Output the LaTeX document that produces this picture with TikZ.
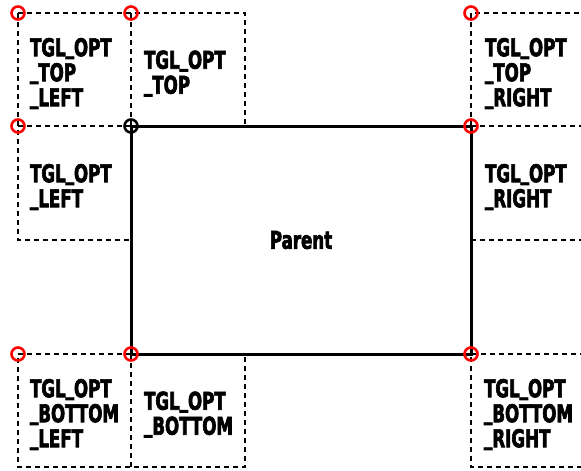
\documentclass[tikz,border=0pt]{standalone}
\usepackage{fontspec}
\newfontfamily\impfont[FakeStretch=0.68,FakeBold=2.5]{DejaVu Sans}
\newcommand\usc{\raisebox{3pt}{\_}}
\begin{document}
\begin{tikzpicture}[x=1pt,y=-1pt,
  optbox/.style={anchor=north west, minimum width=113pt, minimum height=113pt,
    inner sep=0pt, outer sep=0pt},
  wide/.style={minimum width=114pt},
  tall/.style={minimum height=114pt},
  lbl/.style={text width=89pt, inner sep=0pt, align=left,
    font=\impfont\bfseries\fontsize{24.5}{25}\selectfont},
  dash line/.style={draw, dash pattern=on 5pt off 4pt, line width=2.6pt},
  parentbox/.style={draw, line width=3pt, anchor=north west, outer sep=0pt,
    minimum width=340pt, minimum height=228pt, inner sep=0pt,
    font=\impfont\bfseries\fontsize{24.5}{25}\selectfont},
  mk/.style={circle, draw=red, line width=2.6pt, minimum size=13pt, inner sep=0pt},
  mkblack/.style={mk, draw=black}
]
\clip (0,0) rectangle (581,471);
\fill[white] (0,0) rectangle (581,471);
\node[optbox] (tl) at (18,13) {};
\node[optbox,wide] (t) at (131,13) {};
\node[optbox,wide] (tr) at (471,13) {};
\node[optbox,tall] (l) at (18,126) {};
\node[optbox,wide,tall] (r) at (471,126) {};
\node[optbox] (bl) at (18,354) {};
\node[optbox,wide] (b) at (131,354) {};
\node[optbox,wide] (br) at (471,354) {};
\node[lbl] (tlt) at ([xshift=0pt,yshift=-4pt]tl.center) {TGL\usc OPT\\\usc TOP\\\usc LEFT};
\node[lbl] (tt) at ([xshift=0.5pt,yshift=-4pt]t.center) {TGL\usc OPT\\\usc TOP};
\node[lbl] (trt) at ([xshift=1.5pt,yshift=-4pt]tr.center) {TGL\usc OPT\\\usc TOP\\\usc RIGHT};
\node[lbl] (lt) at ([yshift=-4pt]l.center) {TGL\usc OPT\\\usc LEFT};
\node[lbl] (rt) at ([xshift=1.5pt,yshift=-4pt]r.center) {TGL\usc OPT\\\usc RIGHT};
\node[lbl] (blt) at ([yshift=-4pt]bl.center) {TGL\usc OPT\\\usc BOTTOM\\\usc LEFT};
\node[lbl] (bt) at ([xshift=0.5pt,yshift=-4pt]b.center) {TGL\usc OPT\\\usc BOTTOM};
\node[lbl] (brt) at ([xshift=0.5pt,yshift=-4pt]br.center) {TGL\usc OPT\\\usc BOTTOM\\\usc RIGHT};
% dashed borders, each edge once
\path[dash line] (tl.north west) -- (t.north east) -- (t.south east);
\path[dash line] (tl.north west) -- (l.south west) -- (l.south east);
\path[dash line] (tl.north east) -- (tl.south east);
\path[dash line] (tl.south west) -- (tl.south east);
\path[dash line] (tr.south west) -- (tr.north west) -- (tr.north east);
\path[dash line] (tr.south west) -- (tr.south east);
\path[dash line] (r.south west) -- (r.south east);
\path[dash line] (bl.north east) -- (bl.north west) -- (bl.south west) -- (b.south east) -- (b.north east);
\path[dash line] (bl.north east) -- (bl.south east);
\path[dash line] (br.north east) -- (br.north west) -- (br.south west) -- (br.south east);
\node[parentbox] (p) at (131,126) {Parent};
\node[mk] (c1) at (tl.north west) {};
\node[mk] (c2) at (t.north west) {};
\node[mk] (c3) at (tr.north west) {};
\node[mk] (c4) at (l.north west) {};
\node[mkblack] (c5) at (p.north west) {};
\node[mk] (c6) at (p.north east) {};
\node[mk] (c7) at (bl.north west) {};
\node[mk] (c8) at (p.south west) {};
\node[mk] (c9) at (p.south east) {};
\end{tikzpicture}
\end{document}
